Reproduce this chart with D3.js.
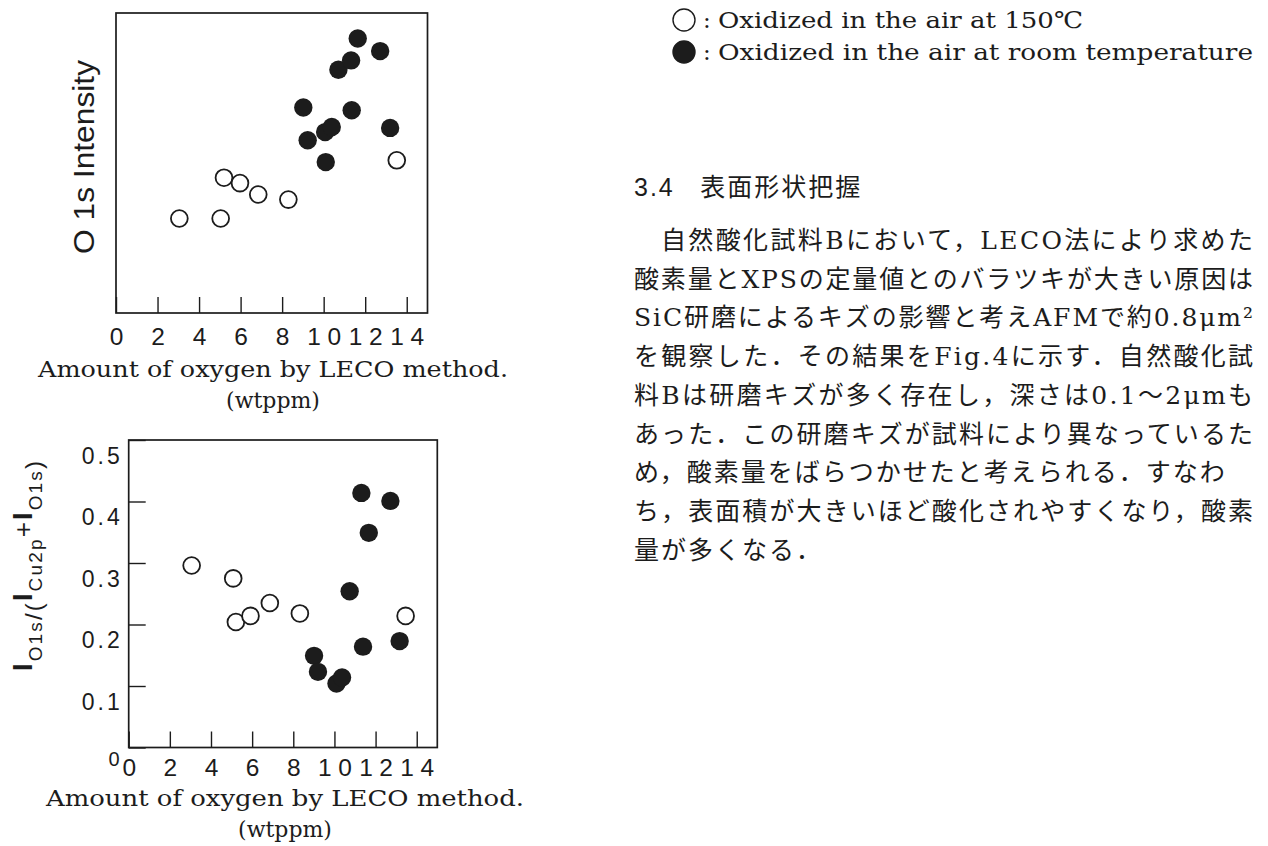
<!DOCTYPE html>
<html><head><meta charset="utf-8">
<script src="https://cdn.jsdelivr.net/npm/d3@7/dist/d3.min.js"></script>
<style>
body{margin:0;background:#fff;}
svg{display:block;}
</style></head><body>
<svg id="c" width="1268" height="846"></svg>
<script>
// ---------- data ----------
// top panel: O 1s intensity (arbitrary units) vs oxygen amount (wtppm)
const topOpenX   = [3.05, 5.04, 5.20, 5.97, 6.85, 8.30, 13.52];
const topOpenY   = [3.15, 3.15, 4.51, 4.33, 3.95, 3.78, 5.09];
const topFilledX = [9.02, 9.23, 10.07, 10.10, 10.39, 10.71, 11.32, 11.35, 11.64, 12.72, 13.20];
const topFilledY = [6.85, 5.76, 6.03, 5.03, 6.20, 8.11, 8.42, 6.76, 9.15, 8.73, 6.17];
// bottom panel: I_O1s/(I_Cu2p+I_O1s) vs oxygen amount (wtppm)
const botOpenX   = [3.06, 5.08, 5.21, 5.92, 6.86, 8.32, 13.46];
const botOpenY   = [0.296, 0.275, 0.204, 0.214, 0.235, 0.218, 0.214];
const botFilledX = [9.01, 9.20, 10.10, 10.37, 10.74, 11.31, 11.39, 11.67, 12.72, 13.17];
const botFilledY = [0.149, 0.123, 0.104, 0.114, 0.254, 0.414, 0.164, 0.349, 0.401, 0.173];
// ticks
const xTickValues = [0, 2, 4, 6, 8, 10, 12, 14];
const yTickValues = [0, 0.1, 0.2, 0.3, 0.4, 0.5];
// texts
const xTitle1 = "Amount of oxygen by LECO method.";
const xTitle2 = "(wtppm)";
const topYTitle = "O 1s Intensity";
const legendLabels = ["Oxidized in the air at 150\u2103", "Oxidized in the air at room temperature"];
const heading = ["3.4", "表面形状把握"];
const paraLines = [
  "自然酸化試料Bにおいて，LECO法により求めた",
  "酸素量とXPSの定量値とのバラツキが大きい原因は",
  "SiC研磨によるキズの影響と考えAFMで約0.8μm²",
  "を観察した．その結果をFig.4に示す．自然酸化試",
  "料Bは研磨キズが多く存在し，深さは0.1～2μmも",
  "あった．この研磨キズが試料により異なっているた",
  "め，酸素量をばらつかせたと考えられる．すなわ",
  "ち，表面積が大きいほど酸化されやすくなり，酸素",
  "量が多くなる．"
];
const paraFull = [true, true, true, true, true, true, false, true, false];

// ---------- drawing ----------
const SANS = '"Liberation Sans", Arial, sans-serif';
const SERIF = '"DejaVu Serif", serif';
const JP = '"DejaVu Serif", "Noto Sans CJK JP", sans-serif';
const INK = '#1c1c1c';
const svg = d3.select('#c');

function zip(xs, ys){ return xs.map((x,i)=>({x, y: ys[i]})); }

function panel(cfg){
  const g = svg.append('g');
  const x = d3.scaleLinear().domain([0,15]).range([cfg.left, cfg.right]);
  const y = d3.scaleLinear().domain(cfg.yDomain).range([cfg.bottom, cfg.top]);
  const xa = g.append('g').attr('transform', `translate(0,${cfg.bottom})`)
    .call(d3.axisBottom(x).tickValues(xTickValues).tickSizeInner(-16).tickSizeOuter(0)
      .tickPadding(cfg.xPad).tickFormat(d3.format('d')));
  xa.select('.domain').remove();
  xa.selectAll('line').attr('stroke', INK).attr('stroke-width', 1.4);
  xa.selectAll('text').attr('font-family', SANS).attr('font-size', 24.5)
    .attr('letter-spacing', 6.5).attr('dx', 3.25).attr('fill', INK);
  if (cfg.yAxis){
    const ya = g.append('g').attr('transform', `translate(${cfg.left},0)`)
      .call(d3.axisLeft(y).tickValues(yTickValues).tickSizeInner(-17).tickSizeOuter(0)
        .tickPadding(9).tickFormat(d => d === 0 ? '0' : d3.format('.1f')(d)));
    ya.select('.domain').remove();
    ya.selectAll('line').attr('stroke', INK).attr('stroke-width', 1.4);
    ya.selectAll('text').attr('font-family', SANS).attr('font-size', d => d === 0 ? 20 : 23)
      .attr('letter-spacing', 3).attr('dx', 3).attr('fill', INK)
      .attr('y', d => d === 0 ? 12 : 16);
  }
  g.append('rect').attr('x', x(0)).attr('y', y(cfg.yDomain[1]))
    .attr('width', x(15)-x(0)).attr('height', y(cfg.yDomain[0])-y(cfg.yDomain[1]))
    .attr('fill','none').attr('stroke', INK).attr('stroke-width', 1.7);
  g.selectAll('circle.open').data(zip(cfg.openX, cfg.openY)).join('circle')
    .attr('class','open').attr('cx', d=>x(d.x)).attr('cy', d=>y(d.y)).attr('r', 8.4)
    .attr('fill','#fff').attr('stroke', INK).attr('stroke-width', 1.8);
  g.selectAll('circle.fill').data(zip(cfg.fillX, cfg.fillY)).join('circle')
    .attr('class','fill').attr('cx', d=>x(d.x)).attr('cy', d=>y(d.y)).attr('r', 9.2)
    .attr('fill', INK);
  g.append('text').attr('x', cfg.titleCx).attr('y', cfg.titleY).attr('text-anchor','middle')
    .attr('font-family', SERIF).attr('font-size', 22).attr('fill', INK)
    .attr('textLength', cfg.titleLen).attr('lengthAdjust','spacingAndGlyphs').text(xTitle1);
  g.append('text').attr('x', cfg.titleCx).attr('y', cfg.titleY + 31).attr('text-anchor','middle')
    .attr('font-family', SERIF).attr('font-size', 22).attr('fill', INK).text(xTitle2);
  return g;
}

panel({left:116, right:427.5, top:13, bottom:313, yDomain:[0,10], xPad:15,
  openX: topOpenX, openY: topOpenY, fillX: topFilledX, fillY: topFilledY,
  titleCx: 273, titleY: 377, titleLen: 470, yAxis:false});

panel({left:128.7, right:437.3, top:440, bottom:747.5, yDomain:[0,0.5], xPad:11,
  openX: botOpenX, openY: botOpenY, fillX: botFilledX, fillY: botFilledY,
  titleCx: 285, titleY: 806, titleLen: 478, yAxis:true});

// top y title
svg.append('text').attr('transform','translate(94,157) rotate(-90)').attr('text-anchor','middle')
  .attr('font-family', SANS).attr('font-size', 30).attr('fill', INK)
  .attr('textLength', 194).attr('lengthAdjust','spacingAndGlyphs').text(topYTitle);

// bottom y title  I_O1s/(I_Cu2p+I_O1s)
const yt = svg.append('text').attr('transform','translate(32,566) rotate(-90)')
  .attr('text-anchor','middle').attr('font-family', SANS).attr('fill', INK)
  .attr('textLength', 210).attr('lengthAdjust','spacing');
const parts = [
  {t:'I', s:27, dy:0}, {t:'O1s', s:19, dy:10}, {t:'/(', s:24, dy:0},
  {t:'I', s:27, dy:-10}, {t:'Cu2p', s:19, dy:10}, {t:'+', s:26, dy:-10},
  {t:'I', s:27, dy:0}, {t:'O1s', s:19, dy:10}, {t:')', s:24, dy:0}
];
parts.forEach(p => yt.append('tspan').attr('font-size', p.s).attr('dy', p.dy)
  .attr('font-weight', p.t==='I' ? 'bold' : 'normal').text(p.t));

// legend
const lg = svg.append('g');
[0,1].forEach(i => {
  const cy = i === 0 ? 20 : 52;
  lg.append('circle').attr('cx', 684).attr('cy', cy).attr('r', 11)
    .attr('fill', i === 0 ? '#fff' : INK).attr('stroke', INK).attr('stroke-width', 1.4);
  lg.append('text').attr('x', 703).attr('y', cy + 7.5).attr('font-family', SERIF)
    .attr('font-size', 23).attr('fill', INK).text(':');
  lg.append('text').attr('x', 718).attr('y', cy + 7.5).attr('font-family', SERIF)
    .attr('font-size', 23).attr('fill', INK)
    .attr('textLength', i === 0 ? 365 : 535).attr('lengthAdjust','spacingAndGlyphs')
    .text(legendLabels[i]);
});

// heading & paragraph
const tx0 = 634, tx1 = 1255, pitch = (tx1 - tx0) / 23;
const hd = svg.append('text').attr('x', tx0).attr('y', 196).attr('fill', INK).attr('font-size', 25);
hd.append('tspan').attr('font-family', SANS).attr('letter-spacing', 2).text(heading[0]);
hd.append('tspan').attr('x', tx0 + 2.45*pitch).attr('font-family', JP).attr('letter-spacing', 2).text(heading[1]);

paraLines.forEach((line, i) => {
  const x0 = i === 0 ? tx0 + pitch : tx0;
  const t = svg.append('text').attr('x', x0).attr('y', 249 + i*38.7)
    .attr('font-family', JP).attr('font-size', 25).attr('fill', INK)
    .attr('letter-spacing', 2).text(line);
  if (paraFull[i]) t.attr('textLength', tx1 - x0).attr('lengthAdjust', 'spacing');
});
</script>
</body></html>
